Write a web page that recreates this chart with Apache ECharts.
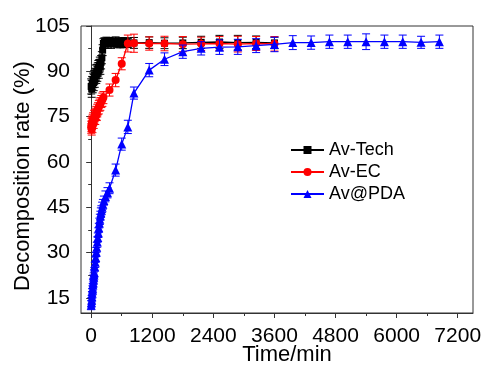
<!DOCTYPE html>
<html>
<head>
<meta charset="utf-8">
<script src="https://cdn.jsdelivr.net/npm/echarts@6/dist/echarts.min.js"></script>
<style>html,body{margin:0;padding:0;background:#fff;}#c{width:486px;height:365px;}</style>
</head>
<body>
<div id="c"></div>
<script>
// ---- data ----
const seriesNames = ['Av-Tech', 'Av-EC', 'Av@PDA'];

const techTime = [0,10,20,30,40,50,60,70,80,90,100,110,120,130,140,150,160,170,180,195,210,225,240,260,280,300,330,360,390,420,450,480,510,540,570,600,630,660,690,720,840,1140,1440,1800,2160,2520,2880,3240,3600];
const techRate = [85.0,84.2,86.1,85.5,87.0,86.3,88.0,87.2,88.8,89.5,88.4,90.0,89.2,90.6,91.2,90.3,91.8,92.4,91.5,93.0,94.5,97.0,99.2,99.6,99.3,99.8,99.4,99.7,99.2,99.6,99.5,99.8,99.3,99.6,99.4,99.7,99.3,99.5,99.6,99.4,99.4,99.5,99.3,99.4,99.6,99.7,99.5,99.6,99.4];
const techErr  = [2.5,2.8,2.2,2.6,2.4,2.7,2.3,2.5,2.2,2.6,2.4,2.3,2.5,2.2,2.4,2.6,2.1,2.3,2.5,2.2,2.0,1.8,1.6,1.5,1.6,1.5,1.7,1.5,1.6,1.5,1.4,1.6,1.5,1.5,1.6,1.4,1.5,1.6,1.5,1.5,1.8,1.9,1.8,1.9,2.0,2.2,2.4,2.1,1.9];

const ecTime = [0,5,10,15,20,25,30,40,50,60,70,80,90,100,110,120,135,150,165,180,200,220,240,360,480,600,720,840,1140,1440,1800,2160,2520,2880,3240,3600];
const ecRate = [71.5,72.3,70.8,72.8,73.2,72.0,73.8,74.2,73.0,74.8,75.3,74.5,75.8,76.2,75.6,77.0,77.6,78.1,78.8,79.2,80.0,80.6,81.3,83.8,87.1,92.5,99.2,99.3,99.2,99.2,99.0,99.1,99.2,99.0,99.2,99.1];
const ecErr  = [2.0,2.2,1.9,2.1,2.0,2.3,2.0,2.1,1.9,2.2,2.0,2.1,2.0,2.2,1.9,2.1,2.0,2.2,2.0,2.1,2.0,2.2,2.0,2.0,2.2,2.0,2.8,3.0,2.2,2.4,2.5,2.2,2.3,2.6,2.3,2.4];

const pdaTime = [0,5,10,15,20,25,30,35,40,45,50,55,60,70,80,90,100,110,120,130,140,150,160,170,180,190,200,215,230,250,280,320,360,480,600,720,840,1140,1440,1800,2160,2520,2880,3240,3600,3960,4320,4680,5040,5400,5760,6120,6480,6840];
const pdaRate = [12.6,13.5,14.3,15.4,16.5,17.5,18.2,19.3,20.0,21.0,21.8,22.6,23.4,25.3,26.8,28.4,30.2,31.8,33.5,35.0,36.6,38.2,39.8,41.0,42.2,43.2,44.0,45.0,46.0,47.2,48.6,49.8,51.3,57.3,65.9,71.6,82.8,90.4,94.0,96.5,97.6,98.0,98.1,98.5,98.9,99.5,99.5,99.8,99.8,99.8,99.8,99.8,99.6,99.8];
const pdaErr  = [1.5,1.6,1.5,1.7,1.6,1.5,1.6,1.7,1.5,1.6,1.5,1.7,1.6,1.5,1.7,1.6,1.5,1.6,1.7,1.5,1.6,1.5,1.6,1.7,1.5,1.6,1.5,1.7,1.6,1.5,1.8,1.7,1.8,2.0,2.0,2.2,2.0,2.2,2.1,2.2,2.2,2.4,2.5,2.3,2.4,2.3,2.2,2.2,2.2,2.6,2.2,2.2,2.0,2.2];

const xMajorTicks = [0,1200,2400,3600,4800,6000,7200];
const xMinorTicks = [600,1800,3000,4200,5400,6600];
const yMajorTicks = [15,30,45,60,75,90,105];
const yMinorTicks = [22.5,37.5,52.5,67.5,82.5,97.5];

const xTitle = 'Time/min';
const yTitle = 'Decomposition rate (%)';

// ---- chart ----
const FONT = '"Liberation Sans", Arial, sans-serif';
const colors = ['#000000', '#ff0000', '#0000ff'];
const symbols = ['rect', 'circle', 'triangle'];
const symbolSizes = [7, 8, 9];
const times = [techTime, ecTime, pdaTime];
const rates = [techRate, ecRate, pdaRate];
const errs = [techErr, ecErr, pdaErr];

function pairs(t, v) { return t.map((x, i) => [x, v[i]]); }
function errData(t, v, e) { return t.map((x, i) => [x, v[i] - e[i], v[i] + e[i]]); }

function errRenderer(color) {
  return function (params, api) {
    const x = api.value(0);
    const lo = api.coord([x, api.value(1)]);
    const hi = api.coord([x, api.value(2)]);
    const w = 4;
    const st = { stroke: color, lineWidth: 1 };
    return {
      type: 'group',
      children: [
        { type: 'line', shape: { x1: lo[0], y1: lo[1], x2: hi[0], y2: hi[1] }, style: st },
        { type: 'line', shape: { x1: lo[0] - w, y1: lo[1], x2: lo[0] + w, y2: lo[1] }, style: st },
        { type: 'line', shape: { x1: hi[0] - w, y1: hi[1], x2: hi[0] + w, y2: hi[1] }, style: st }
      ]
    };
  };
}

const series = [];
for (let k = 0; k < 3; k++) {
  series.push({
    type: 'custom',
    name: seriesNames[k] + ' err',
    xAxisIndex: 0, yAxisIndex: 0,
    renderItem: errRenderer(colors[k]),
    encode: { x: 0, y: [1, 2] },
    data: errData(times[k], rates[k], errs[k]),
    z: 2 + k * 2,
    silent: true
  });
  series.push({
    type: 'line',
    name: seriesNames[k],
    xAxisIndex: 0, yAxisIndex: 0,
    data: pairs(times[k], rates[k]),
    symbol: symbols[k],
    symbolSize: symbolSizes[k],
    showAllSymbol: true,
    color: colors[k],
    itemStyle: { color: colors[k] },
    lineStyle: { color: colors[k], width: 1.3 },
    z: 3 + k * 2,
    animation: false
  });
}

const axisColor = '#333';
const plainNum = v => String(v);
const xBase = { type: 'value', min: -200, max: 7500, gridIndex: 0, position: 'bottom', splitLine: { show: false } };
const yBase = { type: 'value', min: 10, max: 105, gridIndex: 0, position: 'left', splitLine: { show: false } };

const chart = echarts.init(document.getElementById('c'), null, { renderer: 'canvas' });
chart.setOption({
  animation: false,
  backgroundColor: '#fff',
  textStyle: { fontFamily: FONT },
  grid: { left: 81, right: 13, top: 26, bottom: 52, show: true, borderColor: axisColor, borderWidth: 1, backgroundColor: 'transparent' },
  xAxis: [
    Object.assign({}, xBase, {
      axisLine: { show: true, lineStyle: { color: axisColor, width: 1 } },
      axisTick: { show: true, inside: false, length: 5, customValues: xMajorTicks, lineStyle: { color: axisColor } },
      axisLabel: { show: true, customValues: xMajorTicks, formatter: plainNum, fontSize: 21, color: '#000', margin: 13, fontFamily: FONT }
    }),
    Object.assign({}, xBase, {
      axisLine: { show: false },
      axisTick: { show: true, inside: false, length: 3, customValues: xMinorTicks, lineStyle: { color: axisColor } },
      axisLabel: { show: false }
    })
  ],
  yAxis: [
    Object.assign({}, yBase, {
      axisLine: { show: true, lineStyle: { color: axisColor, width: 1 } },
      axisTick: { show: true, inside: false, length: 5, customValues: yMajorTicks, lineStyle: { color: axisColor } },
      axisLabel: { show: true, customValues: yMajorTicks, formatter: plainNum, fontSize: 21, color: '#000', margin: 11, fontFamily: FONT }
    }),
    Object.assign({}, yBase, {
      axisLine: { show: false },
      axisTick: { show: true, inside: false, length: 3, customValues: yMinorTicks, lineStyle: { color: axisColor } },
      axisLabel: { show: false }
    })
  ],
  legend: {
    data: seriesNames,
    orient: 'vertical',
    left: 290,
    top: 141,
    padding: 0,
    itemWidth: 33,
    itemHeight: 10,
    itemGap: 4,
    textStyle: { fontSize: 18, color: '#000', fontFamily: FONT, lineHeight: 18 },
    selectedMode: false
  },
  graphic: [
    { type: 'text', x: 287, y: 355, style: { text: xTitle, font: '22px ' + FONT, fill: '#000', align: 'center', verticalAlign: 'middle' } },
    { type: 'text', x: 23, y: 176, rotation: Math.PI / 2, style: { text: yTitle, font: '22px ' + FONT, fill: '#000', align: 'center', verticalAlign: 'middle' } }
  ],
  series: series
});
</script>
</body>
</html>
